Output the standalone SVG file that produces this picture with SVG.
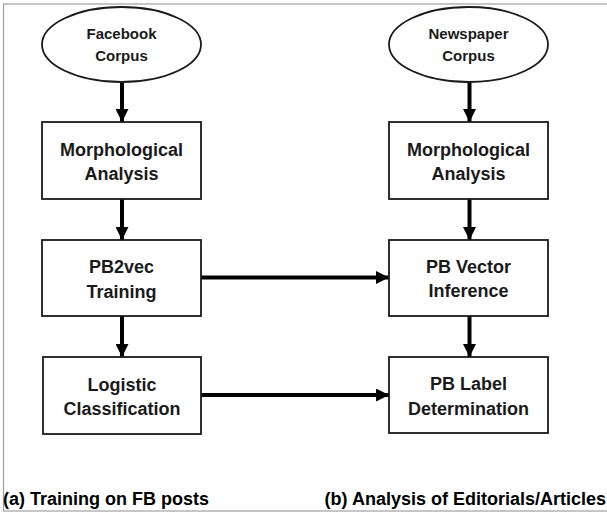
<svg xmlns="http://www.w3.org/2000/svg" width="607" height="512" viewBox="0 0 607 512">
<defs>
<style>
.node{fill:#fff;stroke:#1a1a1a;stroke-width:1.8}
.t{font-family:"Liberation Sans",Arial,sans-serif;font-weight:bold;font-size:18px;fill:#1a1a1a;text-anchor:middle}
.te{font-size:15px}
.cap{font-family:"Liberation Sans",Arial,sans-serif;font-weight:bold;font-size:18px;fill:#000}
.edge{stroke:#000;stroke-width:4;fill:none}
</style>
<marker id="ah" markerUnits="userSpaceOnUse" markerWidth="13" markerHeight="13" viewBox="0 0 12 12" refX="12" refY="6" orient="auto">
<path d="M0,0 L12,6 L0,12 Z" fill="#000"/>
</marker>
</defs>
<rect x="0" y="0" width="607" height="512" fill="#fff"/>
<rect x="3.5" y="4" width="610" height="507" fill="none" stroke="#a0a0a0" stroke-width="1.2"/>
<g id="connectors">
<line class="edge" x1="122" y1="82" x2="122" y2="122" marker-end="url(#ah)"/>
<line class="edge" x1="122" y1="199" x2="122" y2="240" marker-end="url(#ah)"/>
<line class="edge" x1="122" y1="316" x2="122" y2="357" marker-end="url(#ah)"/>
<line class="edge" x1="469.5" y1="82" x2="469.5" y2="122" marker-end="url(#ah)"/>
<line class="edge" x1="469.5" y1="199" x2="469.5" y2="240" marker-end="url(#ah)"/>
<line class="edge" x1="469.5" y1="316" x2="469.5" y2="357" marker-end="url(#ah)"/>
<line class="edge" x1="201" y1="277.5" x2="389" y2="277.5" marker-end="url(#ah)"/>
<line class="edge" x1="201" y1="395" x2="389" y2="395" marker-end="url(#ah)"/>
</g>
<g id="fb-corpus">
<ellipse class="node" cx="121.5" cy="44.5" rx="79.5" ry="37.5"/>
<text class="t te" x="121.5" y="38.5">Facebook</text>
<text class="t te" x="121.5" y="61">Corpus</text>
</g>
<g id="morph-left">
<rect class="node" x="42" y="122" width="159" height="77"/>
<text class="t" x="121.5" y="156">Morphological</text>
<text class="t" x="121.5" y="180">Analysis</text>
</g>
<g id="pb2vec">
<rect class="node" x="42" y="240" width="159" height="76"/>
<text class="t" x="121.5" y="273">PB2vec</text>
<text class="t" x="121.5" y="297.5">Training</text>
</g>
<g id="logistic">
<rect class="node" x="43" y="357" width="158" height="77"/>
<text class="t" x="122" y="390.5">Logistic</text>
<text class="t" x="122" y="414.5">Classification</text>
</g>
<g id="news-corpus">
<ellipse class="node" cx="468.5" cy="44.5" rx="79.5" ry="37.5"/>
<text class="t te" x="468.5" y="38.5">Newspaper</text>
<text class="t te" x="468.5" y="61">Corpus</text>
</g>
<g id="morph-right">
<rect class="node" x="389" y="122" width="159" height="77"/>
<text class="t" x="468.5" y="156">Morphological</text>
<text class="t" x="468.5" y="180">Analysis</text>
</g>
<g id="pb-vector">
<rect class="node" x="389" y="240" width="159" height="76"/>
<text class="t" x="468.5" y="272.5">PB Vector</text>
<text class="t" x="468.5" y="297">Inference</text>
</g>
<g id="pb-label">
<rect class="node" x="389" y="357" width="159" height="76"/>
<text class="t" x="468.5" y="390">PB Label</text>
<text class="t" x="468.5" y="414.5">Determination</text>
</g>
<text class="cap" x="3" y="505">(a) Training on FB posts</text>
<text class="cap" x="606" y="505" text-anchor="end">(b) Analysis of Editorials/Articles</text>
</svg>
